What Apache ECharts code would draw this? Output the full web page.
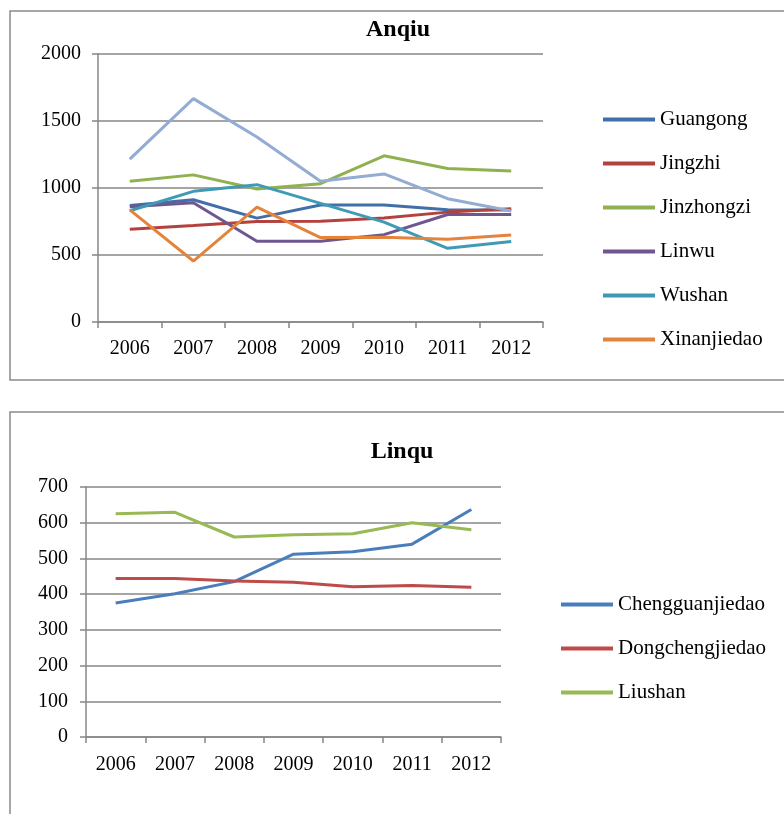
<!DOCTYPE html>
<html>
<head>
<meta charset="utf-8">
<script src="https://cdn.jsdelivr.net/npm/echarts@6/dist/echarts.min.js"></script>
<style>
html,body{margin:0;padding:0;background:#fff;}
#c{width:784px;height:814px;}
</style>
</head>
<body>
<div id="c"></div>
<script>
const years = ['2006','2007','2008','2009','2010','2011','2012'];

const anqiuNames = ['Guangong','Jingzhi','Jinzhongzi','Linwu','Wushan','Xinanjiedao','Other'];
const guangong    = [870, 912, 775, 873, 873, 838, 835];
const jingzhi     = [692, 720, 750, 752, 777, 820, 845];
const jinzhongzi  = [1050, 1098, 992, 1032, 1240, 1145, 1127];
const linwu       = [860, 890, 602, 602, 652, 802, 802];
const wushan      = [830, 975, 1025, 885, 745, 550, 600];
const xinanjiedao = [837, 455, 857, 630, 632, 617, 650];
const other       = [1215, 1667, 1380, 1050, 1105, 920, 828];
const anqiuColors = ['#4170A8','#B3423F','#8FB14F','#6F5690','#3F9BB5','#E4843C','#93ACD3'];

const linquNames = ['Chengguanjiedao','Dongchengjiedao','Liushan'];
const chengguan  = [375, 401, 435, 512, 519, 540, 637];
const dongcheng  = [444, 444, 437, 433, 421, 424, 419];
const liushan    = [625, 629, 560, 566, 569, 600, 580];
const linquColors = ['#4A7EBB','#BE4B48','#98B954'];

const anqiuTicks = {min: 0, max: 2000, interval: 500};
const linquTicks = {min: 0, max: 700, interval: 100};

const FONT = '"Liberation Serif", "Times New Roman", serif';
const GRAY = '#878787';

const anqiuData = [guangong, jingzhi, jinzhongzi, linwu, wushan, xinanjiedao, other];
const linquData = [chengguan, dongcheng, liushan];

function mkSeries(names, data, colors, idx) {
  return names.map((n, i) => ({
    name: n, type: 'line', xAxisIndex: idx, yAxisIndex: idx,
    data: data[i], symbol: 'none', smooth: false,
    lineStyle: {width: 3, color: colors[i]}, itemStyle: {color: colors[i]},
    z: 2 + i
  }));
}

function xAx(idx, margin) {
  return {
    type: 'category', gridIndex: idx, data: years, boundaryGap: true,
    axisLine: {lineStyle: {color: GRAY, width: 1.5}},
    axisTick: {show: true, length: 6, lineStyle: {color: GRAY, width: 1.5}},
    axisLabel: {color: '#000', fontFamily: FONT, fontSize: 20, margin: margin}
  };
}
function yAx(idx, t, margin) {
  return {
    type: 'value', gridIndex: idx, min: t.min, max: t.max, interval: t.interval,
    axisLine: {show: true, lineStyle: {color: GRAY, width: 1.5}},
    axisTick: {show: true, length: 6, lineStyle: {color: GRAY, width: 1.5}},
    splitLine: {show: true, lineStyle: {color: GRAY, width: 1.5}},
    axisLabel: {color: '#000', fontFamily: FONT, fontSize: 20, margin: margin,
                formatter: v => String(v)}
  };
}

const chart = echarts.init(document.getElementById('c'), null, {renderer: 'canvas'});
chart.setOption({
  animation: false,
  backgroundColor: '#fff',
  title: [
    {text: 'Anqiu', left: 393, top: 13, textAlign: 'center',
     textStyle: {fontFamily: FONT, fontSize: 24, fontWeight: 'bold', color: '#000'}},
    {text: 'Linqu', left: 397, top: 435, textAlign: 'center',
     textStyle: {fontFamily: FONT, fontSize: 24, fontWeight: 'bold', color: '#000'}}
  ],
  grid: [
    {left: 98, top: 54, width: 445, height: 268},
    {left: 86, top: 487, width: 415, height: 250}
  ],
  xAxis: [xAx(0, 17), xAx(1, 18)],
  yAxis: [yAx(0, anqiuTicks, 17), yAx(1, linquTicks, 18)],
  legend: [
    {data: anqiuNames.slice(0, 6), orient: 'vertical', left: 598, top: 104,
     icon: 'rect', itemWidth: 52, itemHeight: 4, itemGap: 23,
     textStyle: {fontFamily: FONT, fontSize: 21, color: '#000', lineHeight: 20}},
    {data: linquNames, orient: 'vertical', left: 556, top: 589,
     icon: 'rect', itemWidth: 52, itemHeight: 4, itemGap: 23,
     textStyle: {fontFamily: FONT, fontSize: 21, color: '#000', lineHeight: 20}}
  ],
  graphic: [
    {type: 'rect', shape: {x: 10, y: 11, width: 790, height: 369},
     style: {fill: null, stroke: '#8a8a8a', lineWidth: 1.5}, silent: true, z: -10},
    {type: 'rect', shape: {x: 10, y: 412, width: 790, height: 420},
     style: {fill: null, stroke: '#8a8a8a', lineWidth: 1.5}, silent: true, z: -10}
  ],
  series: mkSeries(anqiuNames, anqiuData, anqiuColors, 0)
    .concat(mkSeries(linquNames, linquData, linquColors, 1))
});
</script>
</body>
</html>
